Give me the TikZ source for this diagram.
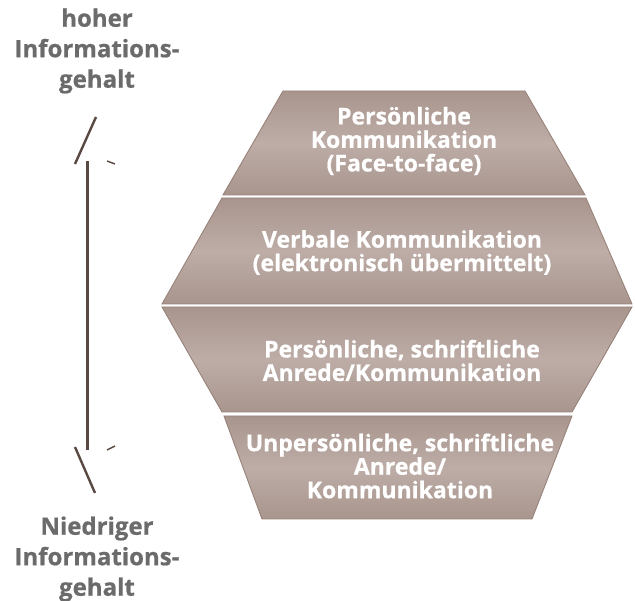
\documentclass[tikz,border=0pt]{standalone}
\usepackage{fontspec}
\setmainfont{Open Sans}[BoldFeatures={FakeBold=0.7}]
\begin{document}
\begin{tikzpicture}[x=1pt,y=-1pt,
  band/.style={draw=bandedge, line width=0.9pt, top color=bandtop, bottom color=bandtop, middle color=bandmid, shading angle=0},
  bandtext/.style={text=white, font=\bfseries\fontsize{23}{23.5}\selectfont, align=center, inner sep=0pt},
  sidetext/.style={text=sidegray, font=\bfseries\fontsize{24}{30.5}\selectfont, align=center, inner sep=0pt},
  axis/.style={draw=axisbrown, line width=3pt},
  tick/.style={draw=axisbrown, line width=1.4pt}]
\definecolor{bandtop}{HTML}{A8958E}
\definecolor{bandmid}{HTML}{BDADA6}
\definecolor{bandedge}{HTML}{98837B}
\definecolor{sidegray}{HTML}{6B6B6B}
\definecolor{axisbrown}{HTML}{5A4843}
\useasboundingbox (0,0) rectangle (635,601);

% stacked trapezoid bands
\path[band] (283,91) -- (525,91) -- (585,195) -- (223,195) -- cycle;
\path[band] (222,198) -- (586,198) -- (632,304) -- (162,304) -- cycle;
\path[band] (162,307) -- (632,307) -- (572,412) -- (222,412) -- cycle;
\path[band] (224,416) -- (572,416) -- (532,519) -- (262,519) -- cycle;

\node[bandtext] (b1) at (404,141) {Persönliche\\Kommunikation\\(Face-to-face)};
\node[bandtext] (b2) at (402,252.5) {Verbale Kommunikation\\(elektronisch übermittelt)};
\node[bandtext] (b3) at (402,360.5) {Persönliche, schriftliche\\Anrede/Kommunikation};
\node[bandtext] (b4) at (400,466) {Unpersönliche, schriftliche\\Anrede/\\Kommunikation};

% side labels
\node[sidetext] (hi) at (97,51) {hoher\\Informations-\\gehalt};
\node[sidetext] (lo) at (97,559) {Niedriger\\Informations-\\gehalt};

% vertical scale with its end marks
\coordinate (top) at (87,161);
\coordinate (bot) at (87,450);
\draw[axis] (top) -- (bot);
\coordinate (ta) at (96,117);
\coordinate (tb) at (75,164);
\draw[tick, line width=2.4pt] (ta) -- (tb);
\coordinate (tc) at (107,161);
\coordinate (td) at (115,164);
\draw[tick] (tc) -- (td);
\coordinate (ba) at (75,447);
\coordinate (bb) at (95,493);
\draw[tick, line width=2.4pt] (ba) -- (bb);
\coordinate (bc) at (107,450);
\coordinate (bd) at (115,446);
\draw[tick] (bc) -- (bd);
\end{tikzpicture}
\end{document}
